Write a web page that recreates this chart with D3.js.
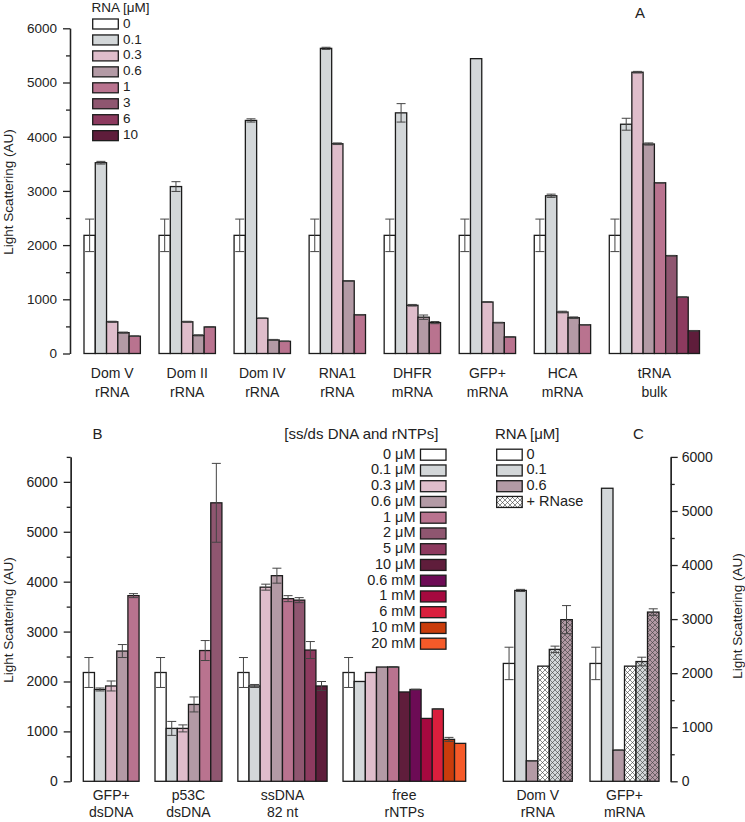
<!DOCTYPE html>
<html><head><meta charset="utf-8">
<script src="https://cdn.jsdelivr.net/npm/d3@7"></script>
<style>
body{margin:0;background:#fff;}
svg{display:block;font-family:"Liberation Sans",Arial,Helvetica,sans-serif;}
</style>
</head><body>
<svg id="chart" width="745" height="822"></svg>
<script>
// ---------- Panel A data ----------
const legendA = ["0","0.1","0.3","0.6","1","3","6","10"];
const colorsA = ["#ffffff","#d3d7d9","#dfbdcb","#b39aa5","#b9738f","#8f5670","#8d3a5f","#5f1d3b"];
const catsA = [["Dom V","rRNA"],["Dom II","rRNA"],["Dom IV","rRNA"],["RNA1","rRNA"],["DHFR","mRNA"],["GFP+","mRNA"],["HCA","mRNA"],["tRNA","bulk"]];
const valsA = [
  [2180,3520,585,385,320],
  [2180,3080,585,335,490],
  [2180,4300,650,250,225],
  [2180,5630,3870,1340,715],
  [2180,4440,890,670,570],
  [2180,5440,950,570,305],
  [2180,2910,765,660,530],
  [2180,4230,5190,3865,3150,1805,1040,420]
];
const errsA = [
  [300,25,10,10,5],
  [300,90,10,10,5],
  [300,30,5,10,5],
  [300,20,15,5,5],
  [300,170,15,40,20],
  [300,0,5,5,5],
  [300,30,15,15,5],
  [300,110,15,20,5,5,5,5]
];
const ticksA = [0,1000,2000,3000,4000,5000,6000];

// ---------- Panel B data ----------
const legendB = ["0 μM","0.1 μM","0.3 μM","0.6 μM","1 μM","2 μM","5 μM","10 μM","0.6 mM","1 mM","6 mM","10 mM","20 mM"];
const colorsB = ["#ffffff","#d3d7d9","#dfbdcb","#b39aa5","#b9738f","#8f5670","#8d3a5f","#5f1d3b","#6c0b55","#a5093f","#d91f3d","#c93c0b","#f55a29"];
const catsB = [["GFP+","dsDNA"],["p53C","dsDNA"],["ssDNA","82 nt"],["free","rNTPs"]];
const colorIdxB = [
  [0,1,2,3,4],
  [0,1,2,3,4,5],
  [0,1,2,3,4,5,6,7],
  [0,1,2,3,4,7,8,9,10,11,12]
];
const valsB = [
  [2180,1840,1910,2610,3720],
  [2180,1060,1060,1540,2620,5580],
  [2180,1910,3890,4120,3660,3630,2630,1910],
  [2180,2000,2180,2290,2290,1790,1840,1260,1450,840,760]
];
const errsB = [
  [300,30,100,130,40],
  [300,140,70,150,200,790],
  [300,30,60,150,60,50,170,90],
  [300,0,0,0,10,0,5,0,5,40,0]
];
const ticksB = [0,1000,2000,3000,4000,5000,6000];

// ---------- Panel C data ----------
const legendC = ["0","0.1","0.6","+ RNase"];
const fillsC = ["#ffffff","#d3d7d9","#b39aa5"];
const catsC = [["Dom V","rRNA"],["GFP+","mRNA"]];
const valsC = [
  [2180,3530,380,2130,2440,2990],
  [2180,5420,575,2130,2215,3130]
];
const errsC = [
  [300,20,5,0,60,260],
  [300,0,5,0,80,60]
];
const hatchC = [false,false,false,true,true,true];
const baseIdxC = [0,1,2,0,1,2];
const ticksC = [0,1000,2000,3000,4000,5000,6000];

// ---------- drawing ----------
const svg = d3.select("#chart");
svg.append("rect").attr("width",745).attr("height",822).attr("fill","#fff");
const defs = svg.append("defs");
fillsC.forEach((c,i)=>{
  const p = defs.append("pattern").attr("id","hatch"+i).attr("patternUnits","userSpaceOnUse")
    .attr("width",5).attr("height",5);
  p.append("rect").attr("width",5).attr("height",5).attr("fill",c);
  p.append("path").attr("d","M0,0L5,5M5,0L0,5M-1,4L1,6M4,-1L6,1M-1,1L1,-1M4,6L6,4")
    .attr("stroke","#3a3a3a").attr("stroke-width",0.6).attr("fill","none");
});

const TXT = "#222";

function slotStarts(sizes, gap){
  let s=0; const out=[];
  sizes.forEach(n=>{out.push(s); s+=n+gap;});
  return {starts:out,total:s-gap};
}

function drawBars(g, x, y, starts, vals, errs, fillFn){
  vals.forEach((arr,gi)=>{
    arr.forEach((v,bi)=>{
      const x0 = x(starts[gi]+bi), x1 = x(starts[gi]+bi+1);
      g.append("rect").attr("x",x0).attr("y",y(v)).attr("width",x1-x0).attr("height",y(0)-y(v))
        .attr("fill",fillFn(gi,bi)).attr("stroke","#1c1c1c").attr("stroke-width",1.3);
    });
  });
  vals.forEach((arr,gi)=>{
    arr.forEach((v,bi)=>{
      const e = errs[gi][bi];
      if(!e) return;
      const cx = (x(starts[gi]+bi)+x(starts[gi]+bi+1))/2;
      const hw = 4.5;
      g.append("line").attr("x1",cx).attr("x2",cx).attr("y1",y(v-e)).attr("y2",y(v+e))
        .attr("stroke","#444").attr("stroke-width",1);
      [v-e,v+e].forEach(t=>{
        g.append("line").attr("x1",cx-hw).attr("x2",cx+hw).attr("y1",y(t)).attr("y2",y(t))
          .attr("stroke","#444").attr("stroke-width",1);
      });
    });
  });
}

function drawCats(g, x, starts, sizes, cats, y1, y2, fs){
  cats.forEach((c,i)=>{
    const cx = (x(starts[i])+x(starts[i]+sizes[i]))/2;
    g.append("text").attr("x",cx).attr("y",y1).attr("text-anchor","middle").attr("font-size",fs).attr("fill",TXT).text(c[0]);
    g.append("text").attr("x",cx).attr("y",y2).attr("text-anchor","middle").attr("font-size",fs).attr("fill",TXT).text(c[1]);
  });
}

function drawYAxis(g, y, ax, majors, minors, left, fs){
  const aMaj = (left?d3.axisLeft(y):d3.axisRight(y)).tickValues(majors).tickSize(7).tickSizeOuter(0)
    .tickPadding(left?6:4).tickFormat(d3.format("d"));
  const aMin = (left?d3.axisLeft(y):d3.axisRight(y)).tickValues(minors).tickSize(4).tickSizeOuter(0).tickFormat("");
  const gm = g.append("g").attr("transform",`translate(${ax},0)`).call(aMin);
  const gM = g.append("g").attr("transform",`translate(${ax},0)`).call(aMaj);
  [gm,gM].forEach(s=>{
    s.select(".domain").attr("stroke","#222").attr("stroke-width",1.3);
    s.selectAll(".tick line").attr("stroke","#222").attr("stroke-width",1.3);
    s.selectAll(".tick text").attr("font-size",fs).attr("fill",TXT).attr("font-family","Liberation Sans, Arial, sans-serif");
  });
}

function yTitle(g, x, y, fs){
  g.append("text").attr("transform",`translate(${x},${y}) rotate(-90)`).attr("text-anchor","middle")
    .attr("dominant-baseline","middle").attr("font-size",fs).attr("fill",TXT).text("Light Scattering (AU)");
}

// ===== Panel A =====
{
  const g = svg.append("g");
  const sizes = valsA.map(a=>a.length);
  const {starts,total} = slotStarts(sizes,1.655);
  const x = d3.scaleLinear().domain([0,total]).range([84,699.5]);
  const y = d3.scaleLinear().domain([0,6000]).range([353.5,28.3]);
  drawBars(g,x,y,starts,valsA,errsA,(gi,bi)=>colorsA[bi]);
  drawYAxis(g,y,70,ticksA,d3.range(500,6000,1000),true,13.5);
  drawCats(g,x,starts,sizes,catsA,378,396.5,14);
  yTitle(g,9,192,13.5);
  // legend
  g.append("text").attr("x",91.5).attr("y",11.5).attr("font-size",13.5).attr("fill",TXT).text("RNA [μM]");
  legendA.forEach((l,i)=>{
    const cy = 24+i*15.95;
    g.append("rect").attr("x",92.7).attr("y",cy-5).attr("width",25.6).attr("height",10)
      .attr("fill",colorsA[i]).attr("stroke","#1c1c1c").attr("stroke-width",1.3);
    g.append("text").attr("x",123).attr("y",cy).attr("dominant-baseline","middle").attr("font-size",13.5).attr("fill",TXT).text(l);
  });
  g.append("text").attr("x",640).attr("y",18).attr("text-anchor","middle").attr("font-size",15).attr("fill",TXT).text("A");
}

// ===== Panel B =====
{
  const g = svg.append("g");
  const sizes = valsB.map(a=>a.length);
  const {starts,total} = slotStarts(sizes,1.43);
  const x = d3.scaleLinear().domain([0,total]).range([83.3,465.7]);
  const y = d3.scaleLinear().domain([0,6500]).range([781.3,456.9]);
  drawBars(g,x,y,starts,valsB,errsB,(gi,bi)=>colorsB[colorIdxB[gi][bi]]);
  drawYAxis(g,y,70.7,ticksB,d3.range(500,7000,1000),true,14);
  drawCats(g,x,starts,sizes,catsB,800,817,14);
  yTitle(g,9,620,13.5);
  g.append("text").attr("x",92.5).attr("y",439).attr("font-size",15).attr("fill",TXT).text("B");
  g.append("text").attr("x",438.5).attr("y",438.5).attr("text-anchor","end").attr("font-size",15).attr("fill",TXT).text("[ss/ds DNA and rNTPs]");
  legendB.forEach((l,i)=>{
    const cy = 454.7+i*15.75;
    g.append("rect").attr("x",420.5).attr("y",cy-5.5).attr("width",25.5).attr("height",11)
      .attr("fill",colorsB[i]).attr("stroke","#1c1c1c").attr("stroke-width",1.3);
    g.append("text").attr("x",415.5).attr("y",cy).attr("text-anchor","end").attr("dominant-baseline","middle").attr("font-size",14.5).attr("fill",TXT).text(l);
  });
}

// ===== Panel C =====
{
  const g = svg.append("g");
  const sizes = valsC.map(a=>a.length);
  const {starts,total} = slotStarts(sizes,1.54);
  const x = d3.scaleLinear().domain([0,total]).range([503.3,659]);
  const y = d3.scaleLinear().domain([0,6000]).range([781.3,456.9]);
  drawBars(g,x,y,starts,valsC,errsC,(gi,bi)=>hatchC[bi]?`url(#hatch${baseIdxC[bi]})`:fillsC[baseIdxC[bi]]);
  drawYAxis(g,y,670.7,ticksC,d3.range(500,6000,1000),false,14);
  drawCats(g,x,starts,sizes,catsC,800,817,14);
  yTitle(g,738,616,13.5);
  g.append("text").attr("x",633).attr("y",439).attr("font-size",15).attr("fill",TXT).text("C");
  g.append("text").attr("x",495).attr("y",438.5).attr("font-size",15).attr("fill",TXT).text("RNA [μM]");
  legendC.forEach((l,i)=>{
    const cy = 454.7+i*15.75;
    const f = i<3 ? fillsC[i] : "url(#hatch0)";
    g.append("rect").attr("x",496.7).attr("y",cy-5.5).attr("width",25.5).attr("height",11)
      .attr("fill",f).attr("stroke","#1c1c1c").attr("stroke-width",1.3);
    g.append("text").attr("x",526.5).attr("y",cy).attr("dominant-baseline","middle").attr("font-size",14.5).attr("fill",TXT).text(l);
  });
}
</script>
</body></html>
